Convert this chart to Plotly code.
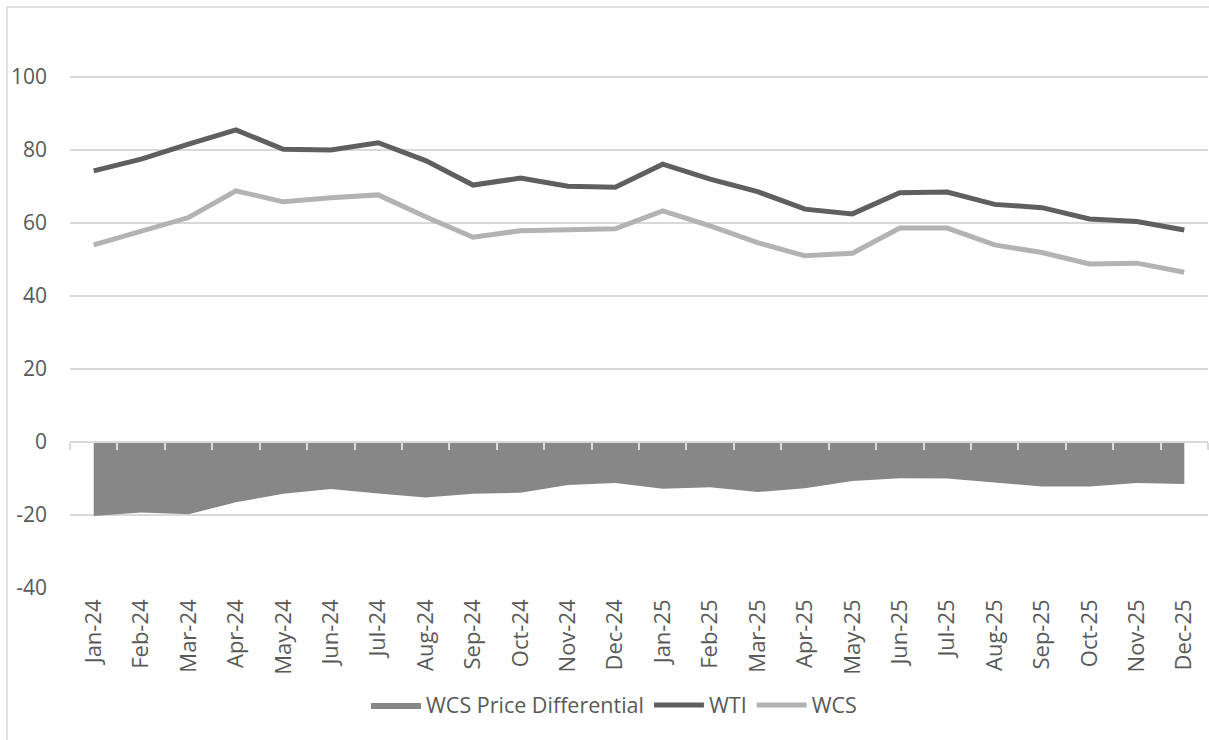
import plotly.graph_objects as go

months = ["Jan-24", "Feb-24", "Mar-24", "Apr-24", "May-24", "Jun-24", "Jul-24", "Aug-24",
          "Sep-24", "Oct-24", "Nov-24", "Dec-24", "Jan-25", "Feb-25", "Mar-25", "Apr-25",
          "May-25", "Jun-25", "Jul-25", "Aug-25", "Sep-25", "Oct-25", "Nov-25", "Dec-25"]

wti = [74.3, 77.5, 81.6, 85.5, 80.2, 80.0, 82.0, 77.1, 70.4, 72.3, 70.1, 69.8,
       76.1, 72.0, 68.6, 63.8, 62.5, 68.3, 68.5, 65.1, 64.2, 61.1, 60.4, 58.1]

wcs = [54.0, 57.8, 61.5, 68.8, 65.8, 66.9, 67.7, 61.7, 56.1, 57.9, 58.3, 58.4,
       63.3, 59.2, 54.6, 51.0, 51.7, 58.6, 58.6, 54.0, 51.9, 48.8, 49.0, 46.5]

differential = [-20.3, -19.3, -19.8, -16.5, -14.2, -12.9, -14.1, -15.2, -14.2, -13.9, -11.8, -11.2,
                -12.8, -12.4, -13.7, -12.7, -10.7, -9.9, -10.0, -11.1, -12.2, -12.2, -11.2, -11.5]

y_ticks = [-40, -20, 0, 20, 40, 60, 80, 100]
y_tick_text = ["-40", "-20", "0", "20", "40", "60", "80", "100"]
y_range = [-40, 120]

TEXT = "#595959"
GRID = "#d9d9d9"
FONT = "Open Sans"

W, H = 1209, 740
ML, MR, MT, MB = 70, 1, 4, 152

fig = go.Figure()

fig.add_trace(go.Scatter(
    x=months, y=differential, name="WCS Price Differential",
    mode="lines", fill="tozeroy", fillcolor="#878787",
    line=dict(color="#878787", width=0),
))
fig.add_trace(go.Scatter(
    x=months, y=wti, name="WTI", mode="lines",
    line=dict(color="#5f5f5f", width=5),
))
fig.add_trace(go.Scatter(
    x=months, y=wcs, name="WCS", mode="lines",
    line=dict(color="#b3b3b3", width=5),
))
# invisible trace on secondary x-axis to show the category axis ticks at y=0
fig.add_trace(go.Scatter(
    x=months, y=[None] * len(months), xaxis="x2", showlegend=False,
    hoverinfo="skip", mode="lines",
))

zero_frac = (0 - y_range[0]) / (y_range[1] - y_range[0])

fig.update_layout(
    width=W, height=H,
    margin=dict(l=ML, r=MR, t=MT, b=MB),
    paper_bgcolor="white", plot_bgcolor="white",
    font=dict(family=FONT, color=TEXT, size=18),
    xaxis=dict(
        type="category", tickangle=-90, showgrid=False, showline=False,
        ticks="", tickfont=dict(size=22, color=TEXT), ticklabelstandoff=6,
        range=[-0.5, len(months) - 0.5], zeroline=False,
    ),
    xaxis2=dict(
        type="category", overlaying="x", anchor="free", position=zero_frac,
        side="bottom", showticklabels=False, showgrid=False,
        showline=True, linecolor=GRID, linewidth=2,
        ticks="outside", tickson="boundaries", ticklen=7, tickcolor=GRID, tickwidth=2,
        range=[-0.5, len(months) - 0.5], layer="above traces",
    ),
    yaxis=dict(
        range=y_range, tickvals=y_ticks, ticktext=y_tick_text,
        showgrid=True, gridcolor=GRID, gridwidth=1.5,
        zeroline=False, showline=False, ticks="", ticklabelstandoff=22,
        tickfont=dict(size=21, color=TEXT),
    ),
    legend=dict(
        orientation="h", x=(614 - ML) / (W - ML - MR), xanchor="center",
        y=-(705 - (H - MB)) / (H - MT - MB), yanchor="middle",
        font=dict(size=21.5, color=TEXT), traceorder="normal",
        itemwidth=50, bgcolor="rgba(0,0,0,0)",
    ),
    showlegend=True,
)

# outer chart border (light gray), starting at ~7px from top-left corner
fig.add_shape(
    type="rect", xref="paper", yref="paper",
    x0=(7 - ML) / (W - ML - MR), x1=(W + 10 - ML) / (W - ML - MR),
    y0=-(H + 10 - (H - MB)) / (H - MT - MB), y1=1 + (MT - 7) / (H - MT - MB),
    line=dict(color=GRID, width=1.5), fillcolor="rgba(0,0,0,0)", layer="below",
)

fig.write_html("out.html")
